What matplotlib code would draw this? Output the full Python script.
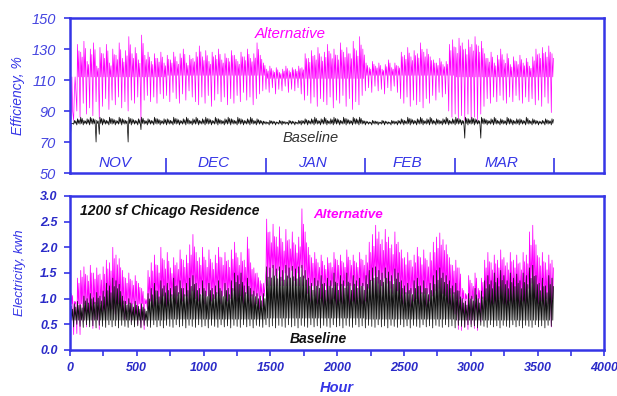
import numpy as np
import matplotlib
matplotlib.use("Agg")
import matplotlib.pyplot as plt
from matplotlib.ticker import MultipleLocator, FormatStrFormatter

plt.rcParams['font.family'] = ['Liberation Sans', 'DejaVu Sans']

# ---------------- data (daily high / low) ----------------
months = ["NOV", "DEC", "JAN", "FEB", "MAR"]
month_hours = [720, 744, 744, 672, 744]

# typical (most-of-the-day) level per month, read from the dense band
alt_eff_typ = [112, 113, 111, 113, 112]
base_eff_typ = [82, 82, 82, 82, 82]
alt_kwh_typ = [0.90, 1.05, 1.25, 1.10, 1.00]
base_kwh_typ = [0.58, 0.60, 0.62, 0.60, 0.58]

alt_eff_hi = [85, 101, 133, 128, 135, 122, 130, 134, 119, 131,
              127, 133, 121, 130, 126, 134, 124, 129, 138, 127,
              131, 123, 139, 126, 128, 122, 127, 124, 128, 121,
              126, 123, 128, 122, 127, 130, 121, 126, 124, 128,
              132, 125, 129, 122, 128, 126, 130, 123, 127, 124,
              129, 126, 122, 128, 125, 130, 124, 127, 134, 126,
              121, 117, 119, 116, 118, 115, 117, 119, 116, 118,
              117, 119, 118, 127, 124, 129, 126, 131, 125, 128,
              133, 127, 130, 126, 134, 128, 131, 127, 135, 129,
              138, 130, 121, 118, 122, 119, 121, 117, 120, 123,
              118, 121, 119, 128, 126, 131, 125, 129, 127, 134,
              128, 130, 125, 123, 121, 124, 120, 122, 133, 136,
              131, 137, 134, 130, 136, 133, 138, 132, 135, 127,
              124, 128, 121, 126, 130, 123, 127, 120, 125, 122,
              126, 121, 124, 119, 125, 130, 127, 131, 128, 132,
              127]
alt_eff_lo = [84, 84, 90, 86, 95, 88, 92, 87, 96, 85,
              93, 98, 91, 97, 94, 99, 92, 96, 90, 97,
              95, 99, 84, 97, 100, 96, 99, 95, 101, 98,
              100, 96, 102, 98, 95, 101, 97, 103, 99, 96,
              94, 99, 95, 100, 93, 97, 101, 96, 99, 94,
              98, 95, 100, 96, 102, 97, 99, 94, 98, 101,
              103, 104, 102, 105, 101, 104, 103, 106, 102, 104,
              103, 105, 101, 97, 100, 95, 99, 93, 98, 96,
              94, 99, 92, 97, 95, 100, 93, 98, 91, 96,
              94, 100, 103, 105, 102, 106, 103, 104, 101, 105,
              103, 106, 102, 98, 95, 99, 93, 97, 94, 96,
              92, 98, 95, 100, 97, 102, 99, 101, 90, 86,
              88, 85, 87, 84, 88, 85, 86, 84, 88, 93,
              98, 95, 99, 96, 100, 97, 95, 99, 96, 100,
              97, 95, 99, 96, 98, 94, 97, 93, 99, 95,
              89]
base_eff_hi = [82, 84, 85, 86, 84, 85, 86, 85, 84, 86,
               85, 84, 86, 85, 84, 86, 85, 84, 86, 85,
               84, 85, 86, 84, 85, 84, 86, 85, 84, 85,
               85, 84, 86, 85, 84, 85, 86, 84, 85, 86,
               84, 85, 86, 85, 84, 86, 85, 84, 85, 86,
               85, 84, 86, 85, 84, 85, 86, 84, 85, 84,
               83.5, 83, 84, 83.5, 83, 84, 83.5, 83, 84, 83.5,
               83, 84, 84, 85, 84, 85, 86, 84, 85, 86,
               84, 85, 86, 85, 84, 86, 85, 84, 86, 85,
               86, 84, 83.5, 83, 84, 83.5, 83, 84, 83.5, 83,
               84, 83.5, 84, 85, 84, 86, 85, 84, 85, 86,
               84, 85, 86, 84, 85, 84, 85, 86, 84, 85,
               86, 85, 84, 86, 85, 86, 85, 84, 86, 85,
               84, 85, 86, 84, 85, 84, 86, 85, 84, 85,
               85, 84, 86, 84, 85, 84, 83.5, 84, 85, 84,
               85]
base_eff_lo = [73, 81.5, 81, 81.5, 81, 81.5, 81, 81.5, 70, 75,
               81, 81.5, 81, 81.5, 81, 81.5, 81, 81.5, 70, 81,
               81.5, 81, 78, 81.5, 81, 81.5, 81, 81.5, 81, 81.5,
               81, 81.5, 81, 81.5, 81, 81.5, 81, 81.5, 81, 81.5,
               81, 81.5, 81, 81.5, 81, 81.5, 81, 81.5, 81, 81.5,
               81, 81.5, 81, 81.5, 81, 81.5, 81, 81.5, 81, 81.5,
               81, 81.5, 81, 81.5, 81, 81.5, 81, 81.5, 81, 81.5,
               81, 81.5, 81, 81.5, 81, 81.5, 81, 81.5, 81, 81.5,
               81, 81.5, 81, 81.5, 81, 81.5, 81, 81.5, 81, 81.5,
               81, 81.5, 81, 81.5, 81, 81.5, 81, 81.5, 81, 81.5,
               81, 81.5, 81, 81.5, 81, 81.5, 81, 81.5, 81, 81.5,
               81, 81.5, 81, 81.5, 81, 81.5, 81, 81.5, 81, 81.5,
               81, 81.5, 81, 72.5, 81, 81.5, 81, 81.5, 72.5, 81.5,
               81, 81.5, 81, 81.5, 81, 81.5, 81, 81.5, 81, 81.5,
               81, 81.5, 81, 81.5, 81, 81.5, 81, 81.5, 81, 81.5,
               81]

alt_kwh_hi = [1.10, 0.95, 1.40, 1.55, 1.62, 1.45, 1.65, 1.50, 1.60, 1.48,
              1.62, 1.75, 1.70, 2.00, 1.85, 1.78, 1.55, 1.40, 1.50, 1.35,
              1.45, 1.30, 1.20, 1.00, 1.55, 1.70, 1.85, 1.65, 2.00, 1.75,
              1.90, 1.60, 1.80, 1.70, 1.95, 1.75, 1.85, 2.05, 2.25, 1.90,
              1.80, 2.00, 1.75, 1.95, 1.70, 1.85, 2.00, 1.80, 1.90, 1.75,
              1.95, 2.10, 1.80, 1.90, 1.75, 2.20, 1.70, 1.60, 1.50, 1.35,
              1.30, 2.55, 2.30, 2.45, 2.20, 2.40, 2.10, 2.35, 2.15, 2.30,
              2.05, 2.20, 2.75, 2.30, 2.00, 1.80, 1.90, 1.70, 1.85, 1.65,
              1.80, 1.70, 1.90, 1.75, 1.85, 1.70, 1.95, 1.75, 1.85, 1.70,
              1.90, 1.75, 1.85, 2.10, 2.25, 2.43, 2.30, 2.15, 2.35, 2.20,
              2.05, 2.30, 2.10, 1.95, 1.80, 1.90, 1.75, 1.85, 2.00, 1.80,
              1.95, 1.75, 1.90, 2.10, 2.20, 2.28, 2.15, 2.05, 1.80, 1.65,
              1.75, 1.60, 1.20, 1.10, 1.45, 1.30, 1.50, 1.20, 1.40, 1.75,
              1.90, 1.70, 1.85, 1.75, 1.95, 1.80, 1.70, 1.90, 1.75, 1.85,
              1.70, 1.90, 1.85, 2.30, 2.43, 2.05, 1.80, 1.90, 1.70, 1.85,
              1.75]
alt_kwh_lo = [0.85, 0.30, 0.32, 0.30, 0.55, 0.45, 0.70, 0.42, 0.60, 0.40,
              0.75, 0.65, 0.85, 0.80, 0.70, 0.90, 0.65, 0.60, 0.75, 0.55,
              0.65, 0.50, 0.45, 0.40, 0.80, 0.95, 0.85, 1.00, 0.90, 1.05,
              0.85, 0.95, 1.00, 0.90, 1.10, 0.95, 1.05, 0.90, 1.15, 1.00,
              0.95, 1.10, 0.90, 1.05, 0.95, 1.00, 1.10, 0.90, 1.05, 0.95,
              1.00, 1.15, 0.95, 1.05, 0.90, 1.10, 0.95, 0.85, 0.90, 0.80,
              0.85, 1.55, 1.40, 1.60, 1.45, 1.55, 1.35, 1.50, 1.40, 1.55,
              1.35, 1.50, 1.60, 1.40, 1.10, 0.95, 1.05, 0.90, 1.00, 0.85,
              0.95, 0.90, 1.00, 0.85, 0.95, 0.90, 1.05, 0.85, 0.95, 0.90,
              1.00, 0.90, 0.95, 1.20, 1.35, 1.45, 1.30, 1.25, 1.40, 1.30,
              1.20, 1.35, 1.15, 1.00, 0.90, 0.95, 0.85, 0.95, 1.00, 0.90,
              0.95, 0.85, 0.95, 1.05, 1.15, 1.20, 1.10, 1.05, 0.90, 0.80,
              0.70, 0.40, 0.38, 0.45, 0.40, 0.50, 0.42, 0.38, 0.55, 0.80,
              0.95, 0.85, 0.90, 0.85, 1.00, 0.90, 0.85, 0.95, 0.90, 0.95,
              0.85, 0.95, 0.90, 1.20, 1.30, 1.00, 0.90, 0.95, 0.85, 0.90,
              0.45]
base_kwh_hi = [0.85, 0.90, 0.95, 0.88, 1.05, 1.00, 1.10, 1.02, 1.12, 1.05,
               1.15, 1.30, 1.25, 1.40, 1.35, 1.28, 1.05, 0.95, 1.00, 0.90,
               0.95, 0.85, 0.90, 0.80, 1.10, 1.20, 1.30, 1.15, 1.35, 1.25,
               1.30, 1.20, 1.40, 1.25, 1.35, 1.20, 1.30, 1.40, 1.45, 1.30,
               1.20, 1.35, 1.15, 1.30, 1.20, 1.25, 1.35, 1.15, 1.30, 1.20,
               1.35, 1.50, 1.45, 1.50, 1.25, 1.40, 1.20, 1.15, 1.10, 1.05,
               1.10, 1.62, 1.60, 1.65, 1.58, 1.62, 1.55, 1.65, 1.60, 1.63,
               1.58, 1.62, 1.65, 1.55, 1.40, 1.30, 1.40, 1.35, 1.45, 1.30,
               1.40, 1.35, 1.50, 1.30, 1.45, 1.35, 1.50, 1.30, 1.45, 1.35,
               1.40, 1.30, 1.45, 1.55, 1.60, 1.62, 1.55, 1.50, 1.60, 1.52,
               1.45, 1.58, 1.50, 1.35, 1.25, 1.30, 1.20, 1.35, 1.40, 1.25,
               1.35, 1.20, 1.30, 1.45, 1.55, 1.60, 1.50, 1.45, 1.35, 1.25,
               1.30, 1.15, 1.00, 0.95, 1.10, 1.05, 1.20, 1.00, 1.15, 1.35,
               1.45, 1.35, 1.50, 1.40, 1.55, 1.45, 1.35, 1.50, 1.40, 1.48,
               1.35, 1.50, 1.45, 1.60, 1.65, 1.45, 1.30, 1.40, 1.25, 1.45,
               1.40]
base_kwh_lo = [0.48, 0.45, 0.50, 0.46, 0.44, 0.49, 0.45, 0.47, 0.43, 0.48,
               0.46, 0.44, 0.49, 0.45, 0.47, 0.43, 0.48, 0.46, 0.44, 0.49,
               0.45, 0.47, 0.43, 0.48, 0.46, 0.44, 0.49, 0.45, 0.47, 0.43,
               0.48, 0.46, 0.44, 0.49, 0.45, 0.47, 0.43, 0.48, 0.46, 0.44,
               0.49, 0.45, 0.47, 0.43, 0.48, 0.46, 0.44, 0.49, 0.45, 0.47,
               0.43, 0.48, 0.46, 0.44, 0.49, 0.45, 0.47, 0.43, 0.48, 0.46,
               0.44, 0.49, 0.45, 0.47, 0.43, 0.48, 0.46, 0.44, 0.49, 0.45,
               0.47, 0.43, 0.48, 0.46, 0.44, 0.49, 0.45, 0.47, 0.43, 0.48,
               0.46, 0.44, 0.49, 0.45, 0.47, 0.43, 0.48, 0.46, 0.44, 0.49,
               0.45, 0.47, 0.43, 0.48, 0.46, 0.44, 0.49, 0.45, 0.47, 0.43,
               0.48, 0.46, 0.44, 0.49, 0.45, 0.47, 0.43, 0.48, 0.46, 0.44,
               0.49, 0.45, 0.47, 0.43, 0.48, 0.46, 0.44, 0.49, 0.45, 0.47,
               0.43, 0.48, 0.46, 0.44, 0.49, 0.45, 0.47, 0.43, 0.48, 0.46,
               0.44, 0.49, 0.45, 0.47, 0.43, 0.48, 0.46, 0.44, 0.49, 0.45,
               0.47, 0.43, 0.48, 0.46, 0.44, 0.49, 0.45, 0.47, 0.43, 0.48,
               0.46]


def daily_trace(lo, hi, typ_by_month):
    """Four samples per day: night low, morning peak, daytime level, evening peak."""
    lo = np.asarray(lo, float)
    hi = np.asarray(hi, float)
    n = len(lo)
    day_month = np.repeat(np.arange(len(month_hours)),
                          np.array(month_hours) // 24)[:n]
    typ = np.asarray(typ_by_month, float)[day_month]
    hi2 = typ + 0.8 * (hi - typ)
    days = np.arange(n) * 24.0
    x = np.column_stack([days + 3, days + 8, days + 14, days + 19]).ravel()
    y = np.column_stack([lo, hi, typ, hi2]).ravel()
    return x, y


BLUE = '#3535e6'
MAG = '#ff00ff'

fig = plt.figure(figsize=(6.17, 3.96), dpi=100)
ax1 = fig.add_axes([0.1135, 0.5631, 0.866, 0.3914])
ax2 = fig.add_axes([0.1135, 0.1162, 0.866, 0.3889])

# --- top panel ---
xa, ya = daily_trace(alt_eff_lo, alt_eff_hi, alt_eff_typ)
xb, yb = daily_trace(base_eff_lo, base_eff_hi, base_eff_typ)
ax1.plot(xa, ya, color=MAG, lw=0.5)
ax1.plot(xb, yb, color='#111111', lw=0.55)
ax1.set_xlim(0, 4000)
ax1.set_ylim(50, 150)
ax1.set_yticks(np.arange(50, 151, 20))
ax1.set_xticks([])
bounds = np.cumsum([0] + month_hours)
ax1.vlines(bounds[1:], 50, 60, color=BLUE, lw=1.2)
for i, m in enumerate(months):
    ax1.text((bounds[i] + bounds[i + 1]) / 2 - 20, 56.5, m, color=BLUE,
             fontsize=11, style='italic', ha='center', va='center')
ax1.text(1650, 140, 'Alternative', color=MAG, fontsize=10.8, style='italic',
         ha='center', va='center')
ax1.text(1800, 72.5, 'Baseline', color='#333333', fontsize=10.5, style='italic',
         ha='center', va='center')
ax1.set_ylabel('Efficiency, %', color=BLUE, fontsize=10, style='italic')
ax1.yaxis.set_label_coords(-0.085, 0.5)

# --- bottom panel ---
xa, ya = daily_trace(alt_kwh_lo, alt_kwh_hi, alt_kwh_typ)
xb, yb = daily_trace(base_kwh_lo, base_kwh_hi, base_kwh_typ)
ax2.plot(xa, ya, color=MAG, lw=0.55)
ax2.plot(xb, yb, color='#111111', lw=0.55)
ax2.set_xlim(0, 4000)
ax2.set_ylim(0, 3.0)
ax2.yaxis.set_major_locator(MultipleLocator(0.5))
ax2.yaxis.set_major_formatter(FormatStrFormatter('%.1f'))
ax2.xaxis.set_major_locator(MultipleLocator(500))
ax2.xaxis.set_minor_locator(MultipleLocator(250))
ax2.text(75, 2.71, '1200 sf Chicago Residence', color='#111111', fontsize=10,
         style='italic', weight='bold', ha='left', va='center')
ax2.text(1820, 2.63, 'Alternative', color=MAG, fontsize=9.7, style='italic',
         weight='bold', ha='left', va='center')
ax2.text(1860, 0.21, 'Baseline', color='#111111', fontsize=10, style='italic',
         weight='bold', ha='center', va='center')
ax2.set_ylabel('Electricity, kwh', color=BLUE, fontsize=9.5, style='italic')
ax2.yaxis.set_label_coords(-0.082, 0.5)
ax2.set_xlabel('Hour', color=BLUE, fontsize=10.5, style='italic', weight='bold',
               labelpad=5)

for ax in (ax1, ax2):
    for s in ax.spines.values():
        s.set_color(BLUE)
        s.set_linewidth(1.8)
    ax.tick_params(axis='both', which='both', colors=BLUE, direction='out',
                   length=4, width=1.2)

for lab in ax1.get_yticklabels():
    lab.set_fontstyle('italic')
    lab.set_fontsize(10.5)
    lab.set_color('#4545e0')
for lab in ax2.get_yticklabels() + ax2.get_xticklabels():
    lab.set_fontstyle('italic')
    lab.set_fontweight('bold')
    lab.set_fontsize(9.0)
    lab.set_color('#2a2ac8')
ax1.tick_params(axis='y', pad=6)
ax2.tick_params(axis='y', pad=5)
ax2.tick_params(axis='x', pad=5)

fig.savefig('out.png', dpi=100)
